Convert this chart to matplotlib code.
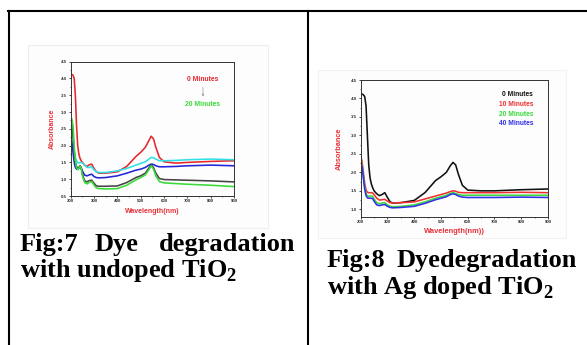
import matplotlib
matplotlib.use("Agg")
import matplotlib.pyplot as plt
from matplotlib.lines import Line2D
from matplotlib.patches import Rectangle
from matplotlib.ticker import FormatStrFormatter

plt.rcParams['mathtext.fontset'] = 'custom'
plt.rcParams['mathtext.rm'] = 'Liberation Serif:bold'
plt.rcParams['mathtext.bf'] = 'Liberation Serif:bold'

# wavelength grid (nm), shared by every curve
wavelength = [200, 205, 210, 215, 220, 225, 230, 235, 240, 245, 250, 260, 270, 280, 290, 300,
              310, 320, 350, 400, 440, 480, 500, 520, 535, 545, 555, 565, 580, 600, 650, 700, 800, 900]

# Fig 7 - undoped TiO2
f7_red = [4.10, 4.12, 4.10, 4.00, 3.50, 2.60, 2.00, 1.75, 1.62, 1.55, 1.50, 1.42, 1.38, 1.43, 1.45, 1.32,
          1.22, 1.18, 1.18, 1.22, 1.38, 1.68, 1.80, 1.95, 2.15, 2.28, 2.20, 1.95, 1.65, 1.52, 1.48, 1.50, 1.53, 1.55]
f7_cyan = [2.75, 2.60, 2.20, 1.85, 1.65, 1.55, 1.50, 1.48, 1.50, 1.50, 1.48, 1.42, 1.35, 1.35, 1.37, 1.28,
           1.22, 1.20, 1.20, 1.25, 1.32, 1.42, 1.47, 1.52, 1.60, 1.65, 1.64, 1.60, 1.55, 1.55, 1.56, 1.58, 1.60, 1.58]
f7_blue = [2.25, 2.10, 1.80, 1.50, 1.35, 1.30, 1.30, 1.33, 1.35, 1.33, 1.25, 1.12, 1.10, 1.13, 1.15, 1.08,
           1.05, 1.04, 1.05, 1.10, 1.18, 1.27, 1.30, 1.35, 1.42, 1.45, 1.44, 1.40, 1.37, 1.37, 1.38, 1.40, 1.42, 1.40]
f7_gray = [2.70, 2.60, 2.30, 1.80, 1.50, 1.38, 1.32, 1.36, 1.40, 1.35, 1.15, 0.95, 0.92, 0.96, 0.97, 0.88,
           0.80, 0.79, 0.79, 0.80, 0.90, 1.05, 1.10, 1.18, 1.33, 1.43, 1.35, 1.18, 1.02, 0.99, 0.98, 0.97, 0.95, 0.92]
f7_green = [2.50, 2.80, 2.60, 2.00, 1.55, 1.35, 1.28, 1.33, 1.38, 1.32, 1.10, 0.90, 0.86, 0.91, 0.93, 0.82,
            0.74, 0.72, 0.71, 0.72, 0.82, 0.98, 1.05, 1.13, 1.28, 1.40, 1.30, 1.10, 0.93, 0.89, 0.87, 0.85, 0.82, 0.78]

# Fig 8 - Ag doped TiO2
f8_0min = [4.10, 4.12, 4.10, 4.05, 3.80, 3.00, 2.20, 1.85, 1.68, 1.58, 1.50, 1.42, 1.37, 1.40, 1.45, 1.32,
           1.20, 1.17, 1.18, 1.24, 1.45, 1.78, 1.88, 2.00, 2.18, 2.27, 2.20, 1.95, 1.65, 1.52, 1.50, 1.50, 1.53, 1.55]
f8_10min = [2.45, 2.30, 2.00, 1.70, 1.52, 1.46, 1.45, 1.45, 1.45, 1.44, 1.40, 1.30, 1.25, 1.26, 1.27, 1.22,
            1.18, 1.17, 1.18, 1.20, 1.28, 1.36, 1.40, 1.44, 1.48, 1.50, 1.49, 1.46, 1.45, 1.45, 1.45, 1.45, 1.46, 1.45]
f8_20min = [2.35, 2.20, 1.90, 1.60, 1.42, 1.37, 1.35, 1.36, 1.36, 1.35, 1.28, 1.18, 1.15, 1.17, 1.18, 1.12,
            1.08, 1.07, 1.08, 1.12, 1.20, 1.30, 1.34, 1.38, 1.43, 1.45, 1.43, 1.40, 1.38, 1.38, 1.38, 1.38, 1.38, 1.38]
f8_40min = [2.30, 2.15, 1.85, 1.55, 1.37, 1.31, 1.30, 1.30, 1.30, 1.29, 1.22, 1.12, 1.10, 1.12, 1.13, 1.08,
            1.05, 1.04, 1.05, 1.08, 1.16, 1.26, 1.30, 1.34, 1.40, 1.42, 1.40, 1.36, 1.33, 1.32, 1.32, 1.32, 1.33, 1.32]

f8_labels = ['0 Minutes', '10 Minutes', '20 Minutes', '40 Minutes']

W, H = 587, 345
fig = plt.figure(figsize=(W / 100, H / 100), dpi=100)


def fx(px):
    return px / W


def fy(py):
    return 1 - py / H


def style_axes(ax, ymin, ymax):
    ax.set_xlim(200, 900)
    ax.set_ylim(ymin, ymax)
    ax.set_xticks(range(200, 901, 100))
    ax.set_xticks(range(250, 900, 100), minor=True)
    ax.yaxis.set_major_formatter(FormatStrFormatter('%.1f'))
    ax.tick_params(labelsize=3.2, width=0.5, length=1.5, pad=1)
    ax.tick_params(which='minor', width=0.4, length=1)
    for lab in ax.get_xticklabels() + ax.get_yticklabels():
        lab.set_fontweight('bold')
        lab.set_family('Liberation Sans')
        lab.set_color('#333333')
    for s in ax.spines.values():
        s.set_linewidth(0.7)
        s.set_color('#333333')


# faint background of the pasted images
fig.add_artist(Rectangle((fx(28), fy(228)), fx(240), 183 / H, transform=fig.transFigure,
                         facecolor='#fdfdfd', edgecolor='#eeeeee', lw=0.8, zorder=-5))
fig.add_artist(Rectangle((fx(318), fy(238)), fx(248), 168 / H, transform=fig.transFigure,
                         facecolor='#fdfdfd', edgecolor='#f2f2f2', lw=0.8, zorder=-5))

lw_curve = 1.15
lab_red = '#e8323a'

# ---- Fig 7
ax1 = fig.add_axes([fx(70.7), fy(196), fx(163.3), 134.3 / H])
ax1.patch.set_alpha(0)
ax1.plot(wavelength, f7_red, color='#e5272c', lw=lw_curve)
ax1.plot(wavelength, f7_cyan, color='#2fe0e6', lw=lw_curve)
ax1.plot(wavelength, f7_blue, color='#2424d8', lw=lw_curve)
ax1.plot(wavelength, f7_gray, color='#444444', lw=lw_curve)
ax1.plot(wavelength, f7_green, color='#3ada3a', lw=lw_curve)
style_axes(ax1, 0.5, 4.5)
ax1.set_yticks([0.5, 1.0, 1.5, 2.0, 2.5, 3.0, 3.5, 4.0, 4.5])
ax1.set_yticks([0.75, 1.25, 1.75, 2.25, 2.75, 3.25, 3.75, 4.25], minor=True)
ax1.set_ylabel('Absorbance', color=lab_red, fontsize=5, fontweight='bold',
               family='Liberation Sans', labelpad=4)
ax1.set_xlabel('Wavelength(nm)', color=lab_red, fontsize=5, fontweight='bold',
               family='Liberation Sans', labelpad=3)
ax1.text(0.81, 0.87, '0 Minutes', transform=ax1.transAxes, color='#e5272c', fontsize=4.9,
         fontweight='bold', family='Liberation Sans', ha='center', va='center')
ax1.annotate('', xy=(0.81, 0.72), xytext=(0.81, 0.83), xycoords='axes fraction',
             arrowprops=dict(arrowstyle='-|>', color='#999999', lw=0.5, mutation_scale=3))
ax1.text(0.81, 0.68, '20 Minutes', transform=ax1.transAxes, color='#3ada3a', fontsize=4.9,
         fontweight='bold', family='Liberation Sans', ha='center', va='center')

# ---- Fig 8
ax2 = fig.add_axes([fx(360.7), fy(216.7), fx(187.3), 136.7 / H])
ax2.patch.set_alpha(0)
f8_colors = ['#111111', '#ee3030', '#3ad83a', '#3030e6']
for vals, c in zip([f8_0min, f8_10min, f8_20min, f8_40min], f8_colors):
    ax2.plot(wavelength, vals, color=c, lw=lw_curve)
style_axes(ax2, 0.8, 4.5)
ax2.set_yticks([1.0, 1.5, 2.0, 2.5, 3.0, 3.5, 4.0, 4.5])
ax2.set_yticks([1.25, 1.75, 2.25, 2.75, 3.25, 3.75, 4.25], minor=True)
ax2.set_ylabel('Absorbance', color=lab_red, fontsize=5.3, fontweight='bold',
               family='Liberation Sans', labelpad=6)
ax2.set_xlabel('Wavelength(nm))', color=lab_red, fontsize=5.4, fontweight='bold',
               family='Liberation Sans', labelpad=3)
for i, (lab, c) in enumerate(zip(f8_labels, f8_colors)):
    ax2.text(0.92, 0.895 - i * 0.072, lab, transform=ax2.transAxes, color=c, fontsize=4.8,
             fontweight='bold', family='Liberation Sans', ha='right', va='center')

# ---- table lines
lw_tab = 1.5
fig.add_artist(Line2D([fx(8), 1], [fy(11), fy(11)], transform=fig.transFigure, color='black', lw=lw_tab))
fig.add_artist(Line2D([fx(9), fx(9)], [fy(11), 0], transform=fig.transFigure, color='black', lw=lw_tab))
fig.add_artist(Line2D([fx(308), fx(308)], [fy(11), 0], transform=fig.transFigure, color='black', lw=lw_tab))

# ---- captions
cap = dict(fontsize=19, fontweight='bold', family='Liberation Serif', color='black', va='baseline')
fig.text(fx(20), fy(250.7), 'Fig:7', ha='left', **cap)
fig.text(fx(95), fy(250.7), 'Dye', ha='left', **cap)
fig.text(fx(295), fy(250.7), 'degradation', ha='right', **cap)
fig.text(fx(20), fy(277), 'with undoped TiO$_2$', ha='left', **cap)

fig.text(fx(327), fy(266.7), 'Fig:8', ha='left', **cap)
fig.text(fx(577), fy(266.7), 'Dyedegradation', ha='right', **cap)
fig.text(fx(327), fy(294.3), 'with Ag doped TiO$_2$', ha='left', **cap)

fig.savefig('out.png', dpi=100)
